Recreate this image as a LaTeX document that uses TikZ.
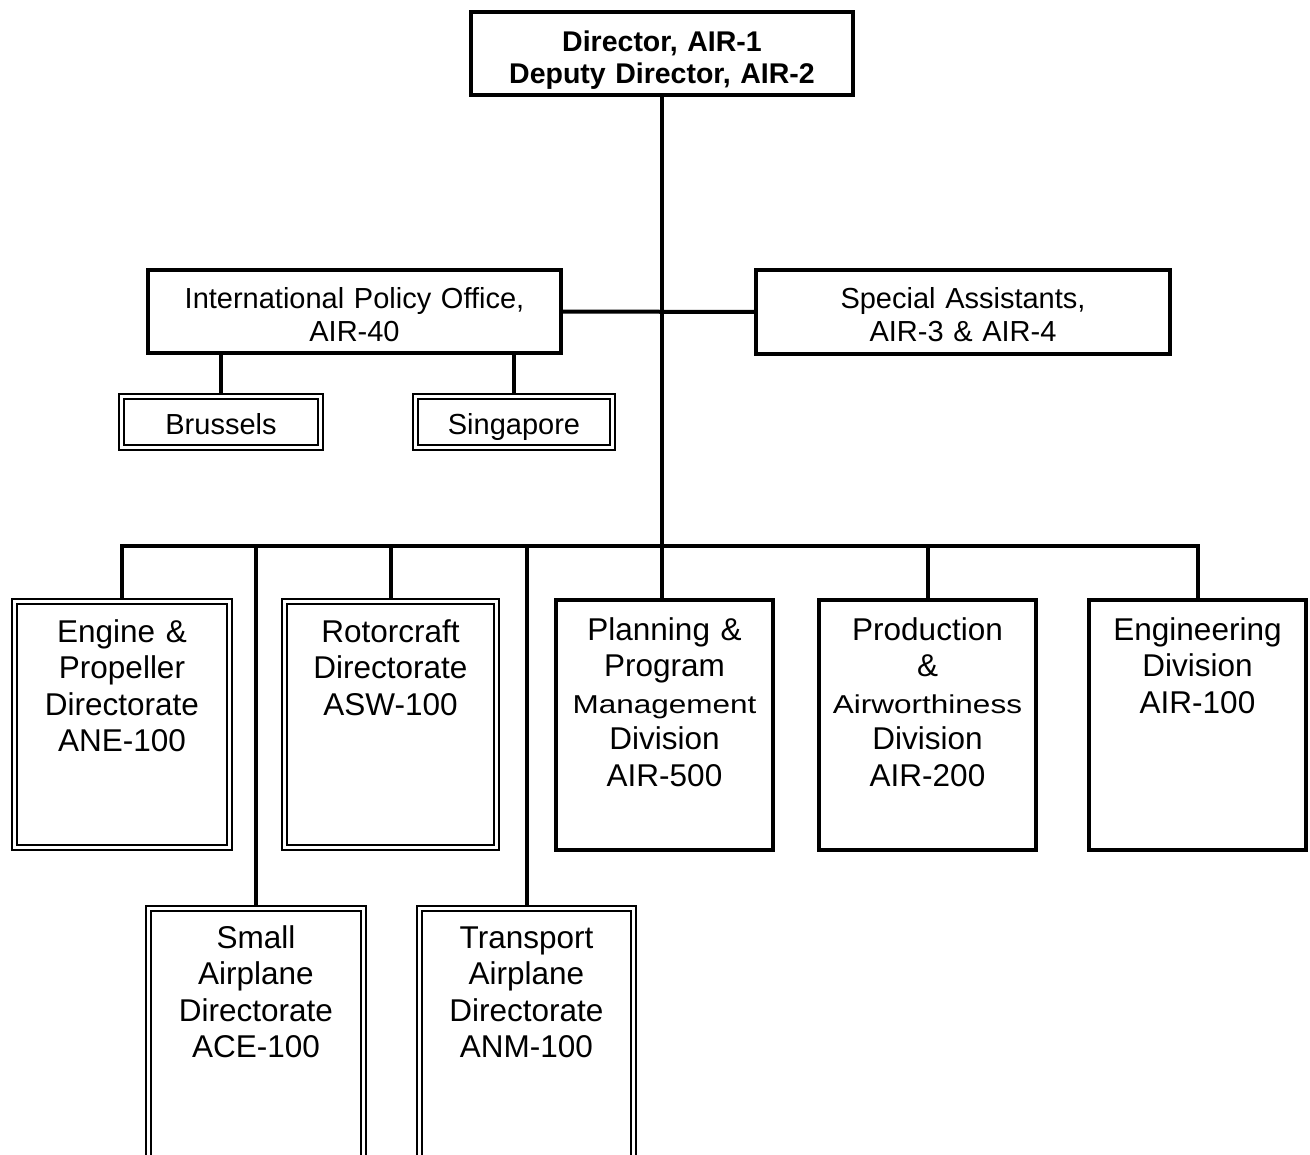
\documentclass[tikz,border=0pt]{standalone}
\usepackage{fontspec}
\setmainfont{Liberation Sans}
\usetikzlibrary{backgrounds}

\tikzset{
	unit/.style={draw, fill=white, line width=4pt, inner sep=0pt, outer sep=0pt, align=center, anchor=north west},
	twin/.style={unit, line width=2pt, double, double distance=3pt},
	link/.style={line width=4pt, line cap=rect},
	big/.style={font={\fontsize{31.5}{36.5}\selectfont}},
}
\newcommand{\squeezed}[1]{\scalebox{1}[0.82]{#1}}

\begin{document}
\begin{tikzpicture}[x=1pt,y=-1pt]

	\useasboundingbox (0,0) rectangle (1310,1155);
	\clip (0,0) rectangle (1310,1155);

	% top
	\node[unit, text width=382pt, text height=40pt, text depth=43pt, font={\bfseries\fontsize{28.5}{32}\selectfont}] (dir) at (471,12) {Director, AIR-1\\Deputy Director, AIR-2};

	% staff offices
	\node[unit, text width=413pt, text height=38.5pt, text depth=44.5pt, font={\fontsize{29}{33}\selectfont}] (intl) at (148,270) {International Policy Office,\\AIR-40};
	\node[unit, text width=414pt, text height=38.5pt, text depth=45.5pt, font={\fontsize{29}{33}\selectfont}] (spec) at (756,270) {Special Assistants,\\AIR-3 \& AIR-4};

	\node[twin, text width=199pt, text height=38pt, text depth=13pt, font={\fontsize{29}{33}\selectfont}] (brus) at (121.5,396.5) {Brussels};
	\node[twin, text width=197pt, text height=38pt, text depth=13pt, font={\fontsize{29}{33}\selectfont}] (sing) at (415.5,396.5) {Singapore};

	% directorates and divisions
	\node[twin, big, text width=215pt, text height=40.8pt, text depth=205.2pt] (eng) at (14.5,601.5) {Engine \&\\Propeller\\Directorate\\ANE-100};
	\node[twin, big, text width=212pt, text height=40.8pt, text depth=205.2pt] (rot) at (284.5,601.5) {Rotorcraft\\Directorate\\ASW-100};
	\node[unit, big, text width=217pt, text height=40.3pt, text depth=209.7pt] (plan) at (556,600) {Planning \&\\Program\\\squeezed{Management}\\Division\\AIR-500};
	\node[unit, big, text width=217pt, text height=40.3pt, text depth=209.7pt] (prod) at (819,600) {Production\\\&\\\squeezed{Airworthiness}\\Division\\AIR-200};
	\node[unit, big, text width=217pt, text height=40.3pt, text depth=209.7pt] (engd) at (1089,600) {Engineering\\Division\\AIR-100};

	\node[twin, big, text width=215pt, text height=39.8pt, text depth=226.7pt] (small) at (148.5,908.5) {Small\\Airplane\\Directorate\\ACE-100};
	\node[twin, big, text width=214pt, text height=39.8pt, text depth=226.7pt] (trans) at (419.5,908.5) {Transport\\Airplane\\Directorate\\ANM-100};

	\coordinate (bus) at (662,546);

	\begin{scope}[on background layer]
		\draw[link] (dir.south) -- (dir.south |- plan.north);
		\draw[link] (intl.east) -- (spec.west);
		\draw[link] (brus.north) -- (brus.north |- intl.south);
		\draw[link] (sing.north) -- (sing.north |- intl.south);
		\draw[link] (eng.north |- bus) -- (engd.north |- bus);
		\foreach \n in {eng,rot,small,trans,prod,engd}
			\draw[link] (\n.north) -- (\n.north |- bus);
	\end{scope}
\end{tikzpicture}
\end{document}
